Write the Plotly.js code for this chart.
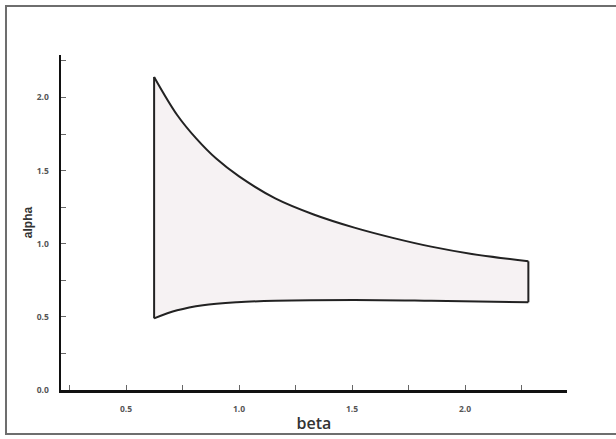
<!DOCTYPE html>
<html>
<head>
<meta charset="utf-8">
<script src="https://cdn.plot.ly/plotly-3.0.1.min.js"></script>
<style>html,body{margin:0;padding:0;background:#fff;}#chart{width:616px;height:439px;}</style>
</head>
<body>
<div id="chart"></div>
<script>
// Upper boundary (left to right)
const betaUpper  = [0.624, 0.726, 0.81, 0.90, 1.00, 1.16, 1.33, 1.51, 1.68, 1.85, 2.03, 2.28];
const alphaUpper = [2.14, 1.88, 1.72, 1.58, 1.46, 1.31, 1.20, 1.11, 1.04, 0.98, 0.93, 0.88];
// Lower boundary (left to right)
const betaLower  = [0.624, 0.726, 0.84, 0.99, 1.16, 1.51, 1.85, 2.28];
const alphaLower = [0.49, 0.545, 0.58, 0.60, 0.61, 0.615, 0.61, 0.60];

const n = betaUpper.length - 1;
const lineStyle = {color: '#222', width: 2, shape: 'spline', smoothing: 1};

const lower = {
  x: betaLower, y: alphaLower, type: 'scatter', mode: 'lines',
  line: lineStyle, hoverinfo: 'skip', showlegend: false
};
const upper = {
  x: betaUpper, y: alphaUpper, type: 'scatter', mode: 'lines',
  fill: 'tonexty', fillcolor: '#f6f2f3',
  line: lineStyle, hoverinfo: 'skip', showlegend: false
};
const edges = {
  x: [betaLower[0], betaUpper[0], null, betaUpper[n], betaLower[betaLower.length - 1]],
  y: [alphaLower[0], alphaUpper[0], null, alphaUpper[n], alphaLower[alphaLower.length - 1]],
  type: 'scatter', mode: 'lines',
  line: {color: '#222', width: 2}, hoverinfo: 'skip', showlegend: false
};

const tickFont = {family: 'Open Sans, Lato, sans-serif', size: 8.5, color: '#555', weight: 700};

const layout = {
  width: 616, height: 439,
  margin: {l: 61, r: 49, t: 55, b: 49},
  paper_bgcolor: '#fff', plot_bgcolor: '#fff',
  showlegend: false,
  xaxis: {
    range: [0.212, 2.451], showgrid: false, zeroline: false,
    showline: true, linecolor: '#111', linewidth: 2.5,
    ticks: 'inside', ticklen: 5, tickwidth: 1, tickcolor: '#666',
    dtick: 0.5, tick0: 0, tickformat: '.1f', tickfont: tickFont, ticklabelstandoff: 9,
    minor: {dtick: 0.25, tick0: 0, ticks: 'inside', ticklen: 5, tickwidth: 1, tickcolor: '#666', showgrid: false},
    title: {text: 'beta', font: {family: 'Open Sans, Lato, sans-serif', size: 16, color: '#333', weight: 600}, standoff: 5}
  },
  yaxis: {
    range: [0, 2.29], showgrid: false, zeroline: false,
    showline: true, linecolor: '#111', linewidth: 2.5,
    ticks: 'inside', ticklen: 5, tickwidth: 1, tickcolor: '#666',
    dtick: 0.5, tick0: 0, tickformat: '.1f', tickfont: tickFont, ticklabelstandoff: 8,
    minor: {dtick: 0.25, tick0: 0, ticks: 'inside', ticklen: 5, tickwidth: 1, tickcolor: '#666', showgrid: false},
    title: {text: 'alpha', font: {family: 'Liberation Sans, Arial, sans-serif', size: 12, color: '#333', weight: 700}, standoff: 2}
  },
  shapes: [{
    type: 'path', xref: 'paper', yref: 'paper',
    path: 'M 1.11 1.146 L -0.1087 1.146 L -0.1087 -0.131 L 1.11 -0.131',
    line: {color: '#6e6e6e', width: 2}
  }]
};

Plotly.newPlot('chart', [lower, upper, edges], layout, {displayModeBar: false, staticPlot: true});
</script>
</body>
</html>
